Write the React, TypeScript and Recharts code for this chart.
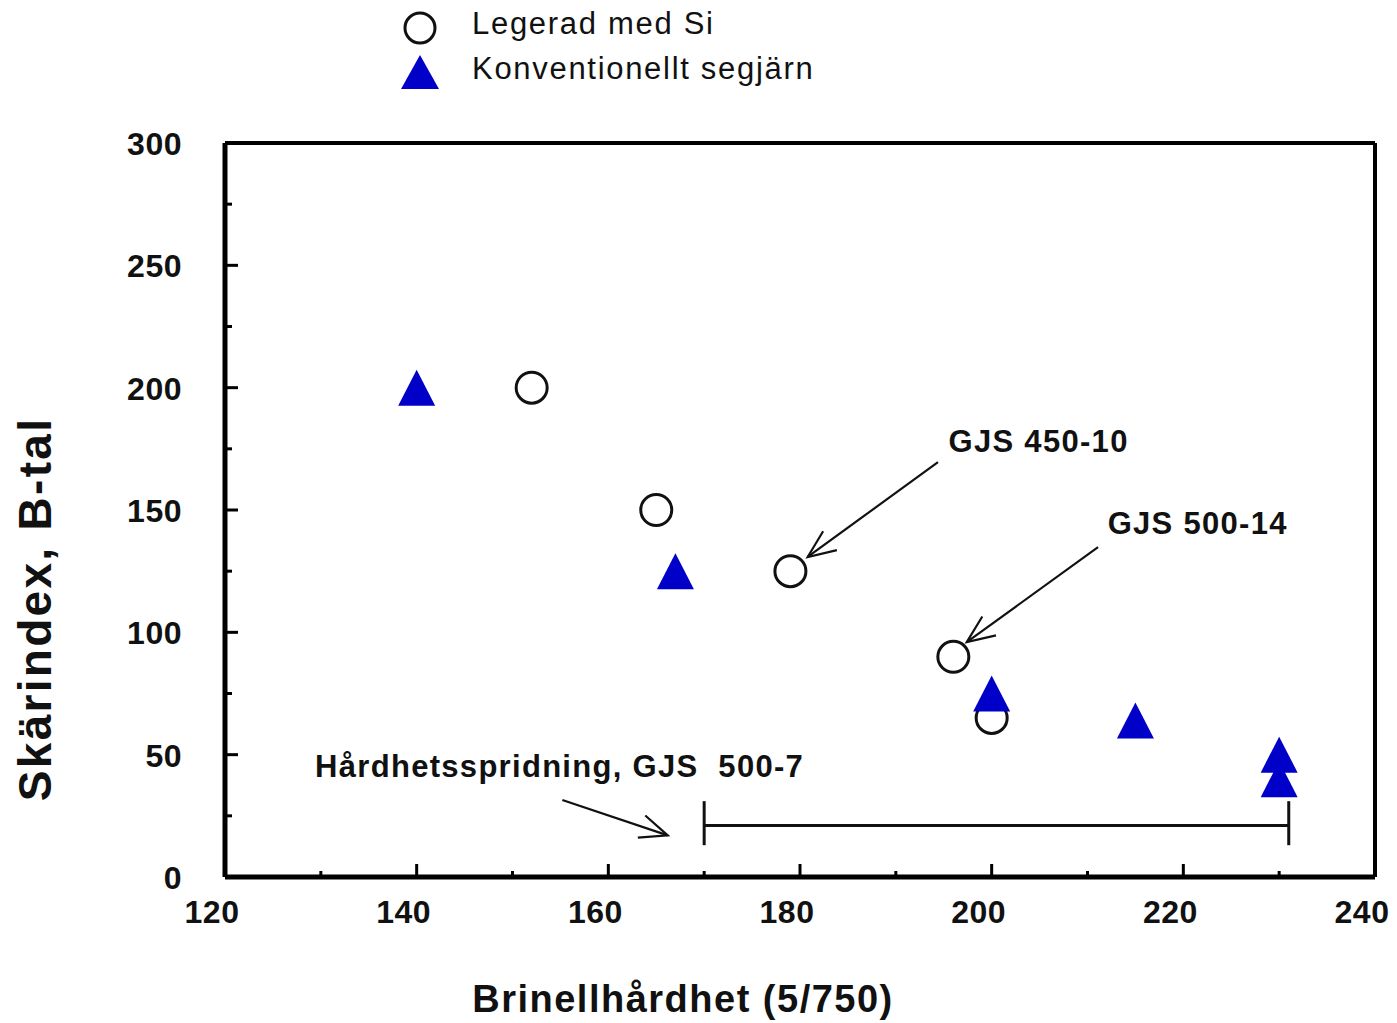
import { ReferenceDot, ReferenceLine, Scatter, ScatterChart, XAxis, YAxis } from "recharts"

const FONT = '"Liberation Sans", Arial, Helvetica, sans-serif'
const BLUE = "#0000c8"

// axis ticks
const X_TICKS = [120, 130, 140, 150, 160, 170, 180, 190, 200, 210, 220, 230, 240]
const X_LABELS = [120, 140, 160, 180, 200, 220, 240]
const Y_TICKS = [0, 25, 50, 75, 100, 125, 150, 175, 200, 225, 250, 275, 300]
const Y_LABELS = [0, 50, 100, 150, 200, 250, 300]

// series
const SERIES_NAMES = ["Legerad med Si", "Konventionellt segjärn"]
const SI_HB = [152, 165, 179, 196, 200]
const SI_B = [200, 150, 125, 90, 65]
const KONV_HB = [140, 167, 200, 215, 230, 230]
const KONV_B = [200, 125, 75, 64, 50, 40]

// annotations
const NOTE_TEXT = ["GJS 450-10", "GJS 500-14", "Hårdhetsspridning, GJS  500-7"]
const NOTE_HB = [195.5, 212.1, 129.4]
const NOTE_B = [178.2, 144.7, 45.4]
const ARROW_FROM_HB = [194.4, 211.1, 155.2]
const ARROW_FROM_B = [169.6, 134.8, 31.5]
const ARROW_TO_HB = [180.8, 197.4, 166.2]
const ARROW_TO_B = [130.8, 96.0, 17.0]
const SPREAD_HB = [170, 231]
const SPREAD_B = 21
const SPREAD_CAP = [13, 31]

const siData = SI_HB.map((hb, i) => ({ hb, b: SI_B[i] }))
const konvData = KONV_HB.map((hb, i) => ({ hb, b: KONV_B[i] }))

const tickText = {
  fontFamily: FONT,
  fontSize: 32,
  fontWeight: 700,
  letterSpacing: 0.5,
  fill: "#111",
}

function BottomTick({ x, y, payload }: any) {
  const major = X_LABELS.includes(payload.value)
  return (
    <g>
      <line x1={x} y1={y} x2={x} y2={y - (major ? 13 : 6)} stroke="#000" strokeWidth={3} />
      {major && (
        <text x={x - 13} y={y + 46} textAnchor="middle" {...tickText}>
          {payload.value}
        </text>
      )}
    </g>
  )
}

function TopTick({ x, y, payload }: any) {
  const major = X_LABELS.includes(payload.value)
  return <line x1={x} y1={y} x2={x} y2={y + (major ? 13 : 6)} stroke="#000" strokeWidth={3} />
}

function LeftTick({ x, y, payload }: any) {
  const major = Y_LABELS.includes(payload.value)
  return (
    <g>
      <line x1={x} y1={y} x2={x + (major ? 13 : 7)} y2={y} stroke="#000" strokeWidth={3} />
      {major && (
        <text x={x - 43} y={y + 12} textAnchor="end" {...tickText}>
          {payload.value}
        </text>
      )}
    </g>
  )
}

function RightTick({ x, y, payload }: any) {
  const major = Y_LABELS.includes(payload.value)
  return <line x1={x} y1={y} x2={x - (major ? 13 : 7)} y2={y} stroke="#000" strokeWidth={3} />
}

function XTitle({ viewBox }: any) {
  return (
    <text
      x={viewBox.x + 458}
      y={viewBox.y + 135}
      textAnchor="middle"
      fontFamily={FONT}
      fontSize={38}
      fontWeight={700}
      letterSpacing={1.5}
      fill="#111"
    >
      Brinellhårdhet (5/750)
    </text>
  )
}

function YTitle({ viewBox }: any) {
  const cx = viewBox.x - 164
  const cy = viewBox.y + 466
  return (
    <text
      x={cx}
      y={cy}
      transform={`rotate(-90, ${cx}, ${cy})`}
      textAnchor="middle"
      fontFamily={FONT}
      fontSize={46}
      fontWeight={700}
      letterSpacing={2.3}
      fill="#111"
    >
      Skärindex, B-tal
    </text>
  )
}

const OpenCircle = ({ cx, cy }: any) => (
  <circle cx={cx} cy={cy} r={15.5} fill="#fff" stroke="#111" strokeWidth={3} />
)

const Triangle = ({ cx, cy }: any) => (
  <polygon
    points={`${cx},${cy - 18} ${cx - 18.5},${cy + 18} ${cx + 18.5},${cy + 18}`}
    fill={BLUE}
  />
)

const Arrow = ({ x1, y1, x2, y2 }: any) => {
  const a = Math.atan2(y2 - y1, x2 - x1)
  const len = 30
  const spread = 0.4
  const w1x = x2 - len * Math.cos(a - spread)
  const w1y = y2 - len * Math.sin(a - spread)
  const w2x = x2 - len * Math.cos(a + spread)
  const w2y = y2 - len * Math.sin(a + spread)
  return (
    <g stroke="#111" strokeWidth={2.2} fill="none">
      <line x1={x1} y1={y1} x2={x2} y2={y2} />
      <polyline points={`${w1x},${w1y} ${x2},${y2} ${w2x},${w2y}`} />
    </g>
  )
}

const noteLabel = (text: string) => ({ cx, cy }: any) => (
  <text
    x={cx}
    y={cy + 11}
    fontFamily={FONT}
    fontSize={31}
    fontWeight={700}
    letterSpacing={1.3}
    fill="#111"
    style={{ whiteSpace: "pre" }}
  >
    {text}
  </text>
)

function LegendBox() {
  const text = {
    position: "absolute" as const,
    left: 472,
    fontFamily: FONT,
    fontSize: 31,
    letterSpacing: 1.7,
    lineHeight: "36px",
    color: "#111",
    whiteSpace: "nowrap" as const,
  }
  return (
    <>
      <svg style={{ position: "absolute", left: 400, top: 8 }} width={40} height={40}>
        <circle cx={20} cy={20} r={15} fill="#fff" stroke="#111" strokeWidth={3} />
      </svg>
      <div style={{ ...text, top: 6 }}>{SERIES_NAMES[0]}</div>
      <svg style={{ position: "absolute", left: 400, top: 52 }} width={40} height={40}>
        <polygon points="20,3 1,37 39,37" fill={BLUE} />
      </svg>
      <div style={{ ...text, top: 51 }}>{SERIES_NAMES[1]}</div>
    </>
  )
}

export default function App() {
  return (
    <div style={{ position: "absolute", left: 0, top: 0, width: 1397, height: 1023, background: "#fff" }}>
      <ScatterChart width={1397} height={1023} margin={{ top: 133, right: 12, bottom: 136, left: 215 }}>
        <XAxis
          type="number"
          dataKey="hb"
          domain={[120, 240]}
          ticks={X_TICKS}
          interval={0}
          height={10}
          tickSize={0}
          tickMargin={0}
          tickLine={false}
          tick={<BottomTick />}
          axisLine={{ stroke: "#000", strokeWidth: 5 }}
          label={(p: any) => <XTitle {...p} />}
        />
        <XAxis
          xAxisId="top"
          orientation="top"
          type="number"
          dataKey="hb"
          domain={[120, 240]}
          ticks={X_TICKS}
          interval={0}
          height={10}
          tickSize={0}
          tickMargin={0}
          tickLine={false}
          tick={<TopTick />}
          axisLine={{ stroke: "#000", strokeWidth: 4 }}
        />
        <YAxis
          type="number"
          dataKey="b"
          domain={[0, 300]}
          ticks={Y_TICKS}
          interval={0}
          width={10}
          tickSize={0}
          tickMargin={0}
          tickLine={false}
          tick={<LeftTick />}
          axisLine={{ stroke: "#000", strokeWidth: 5 }}
          label={(p: any) => <YTitle {...p} />}
        />
        <YAxis
          yAxisId="right"
          orientation="right"
          type="number"
          dataKey="b"
          domain={[0, 300]}
          ticks={Y_TICKS}
          interval={0}
          width={10}
          tickSize={0}
          tickMargin={0}
          tickLine={false}
          tick={<RightTick />}
          axisLine={{ stroke: "#000", strokeWidth: 4 }}
        />

        <ReferenceLine
          segment={[{ x: SPREAD_HB[0], y: SPREAD_B }, { x: SPREAD_HB[1], y: SPREAD_B }]}
          stroke="#111"
          strokeWidth={3}
        />
        {SPREAD_HB.map((hb) => (
          <ReferenceLine
            key={hb}
            segment={[{ x: hb, y: SPREAD_CAP[0] }, { x: hb, y: SPREAD_CAP[1] }]}
            stroke="#111"
            strokeWidth={3}
          />
        ))}
        {NOTE_TEXT.map((t, i) => (
          <ReferenceLine
            key={"arrow" + i}
            segment={[
              { x: ARROW_FROM_HB[i], y: ARROW_FROM_B[i] },
              { x: ARROW_TO_HB[i], y: ARROW_TO_B[i] },
            ]}
            shape={Arrow}
          />
        ))}
        {NOTE_TEXT.map((t, i) => (
          <ReferenceDot key={"note" + i} x={NOTE_HB[i]} y={NOTE_B[i]} r={0} shape={noteLabel(t)} />
        ))}

        <Scatter name={SERIES_NAMES[0]} data={siData} shape={OpenCircle} isAnimationActive={false} />
        <Scatter name={SERIES_NAMES[1]} data={konvData} shape={Triangle} isAnimationActive={false} />
      </ScatterChart>
      <LegendBox />
    </div>
  )
}
